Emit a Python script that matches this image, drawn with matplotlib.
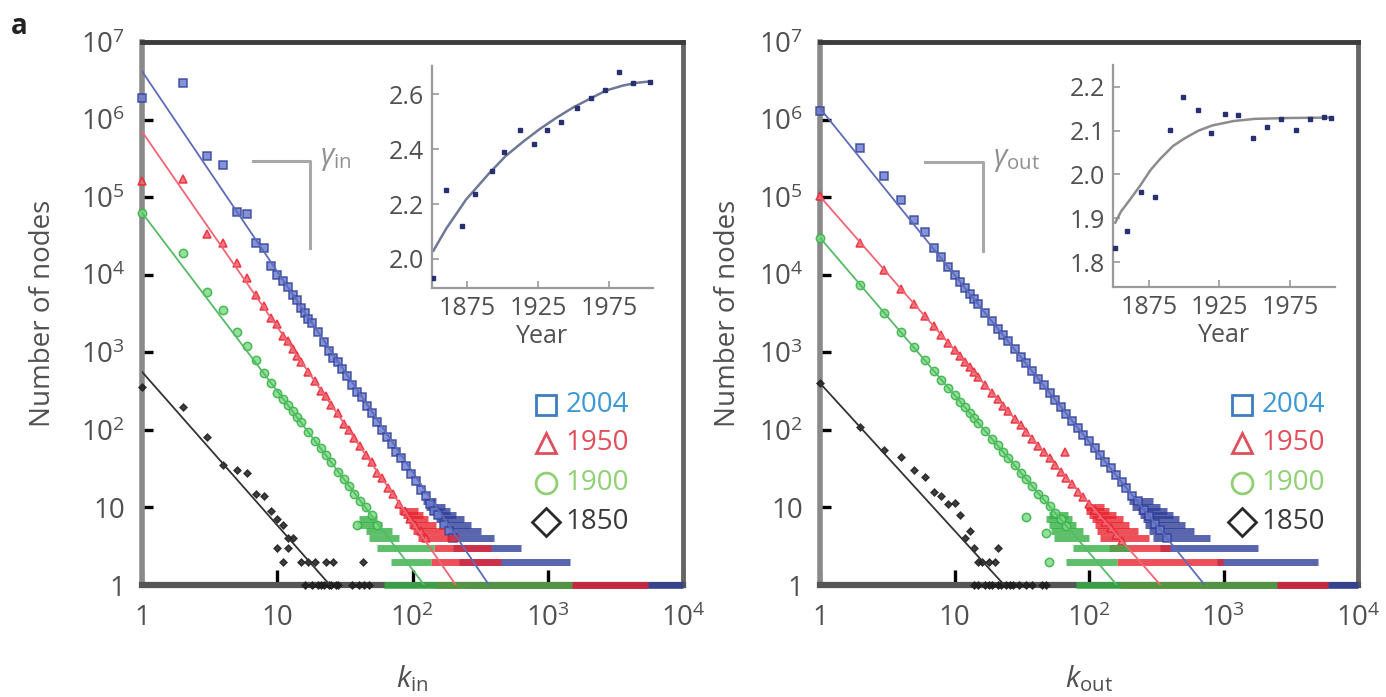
import matplotlib
matplotlib.use("Agg")
import matplotlib.pyplot as plt

plt.rcParams['font.family'] = ['Open Sans', 'DejaVu Sans']
plt.rcParams['mathtext.fontset'] = 'custom'
plt.rcParams['mathtext.rm'] = 'Open Sans'
plt.rcParams['mathtext.it'] = 'Open Sans:italic'

TXT = '#505050'

# ---- panel 1: in-degree distributions (k, number of nodes) ----
in_blue_k = [1, 2, 3, 4, 5, 6, 7, 8, 9, 10, 11, 12, 13, 14, 15, 16, 17, 18, 20, 22, 24, 26, 28, 30,
             33, 36, 39, 42, 46, 50, 55, 60, 65, 70, 76, 82, 90, 98, 106, 115, 125, 135, 145, 155, 170, 185, 200]
in_blue_n = [1.9e6, 3.0e6, 3.4e5, 2.6e5, 6.5e4, 6.0e4, 2.6e4, 2.2e4, 1.3e4, 1.0e4, 8.2e3, 7.0e3, 5.4e3, 4.7e3,
             3.7e3, 3.2e3, 2.7e3, 2.4e3, 1.8e3, 1.35e3, 1.05e3, 850, 760, 610, 490, 380, 310, 265, 205, 165,
             125, 100, 82, 66, 52, 43, 34, 27, 22, 17, 14, 11, 9, 8, 6, 5, 4]
in_blue_run_n = [12, 10, 9, 8, 7, 6, 5, 4, 3, 2, 1]
in_blue_run_k0 = [120, 125, 135, 145, 150, 160, 170, 180, 200, 220, 250]
in_blue_run_k1 = [150, 175, 190, 210, 240, 270, 320, 400, 630, 1450, 10000]

in_red_k = [1, 2, 3, 4, 5, 6, 7, 8, 9, 10, 11, 12, 13, 14, 15, 17, 19, 21, 23, 25, 28, 31, 34, 37, 41, 45,
            50, 55, 60, 66, 72, 80, 88, 96, 105, 115, 125]
in_red_n = [1.6e5, 1.7e5, 3.3e4, 2.6e4, 1.4e4, 9.0e3, 5.5e3, 3.9e3, 2.8e3, 2.3e3, 1.6e3, 1.4e3, 1.1e3, 900,
            760, 560, 430, 320, 270, 210, 165, 120, 100, 78, 62, 47, 38, 28, 24, 18, 15, 11, 9, 7, 6, 5, 4]
in_red_run_n = [9, 8, 7, 6, 5, 4, 3, 2, 1]
in_red_run_k0 = [80, 85, 90, 95, 100, 110, 145, 137, 150]
in_red_run_k1 = [110, 120, 130, 150, 170, 220, 380, 450, 5500]

in_green_k = [1, 2, 3, 4, 5, 6, 7, 8, 9, 10, 11, 12, 13, 14, 15, 17, 19, 21, 23, 25, 28, 31, 34, 37, 39, 41, 45, 50, 55]
in_green_n = [6.3e4, 1.9e4, 6.0e3, 3.5e3, 1.8e3, 1.2e3, 800, 540, 400, 300, 250, 210, 175, 145, 125, 93, 72,
              58, 47, 38, 29, 23, 19, 15, 6, 12, 10, 8, 6]
in_green_run_n = [7, 6, 5, 4, 3, 2, 1]
in_green_run_k0 = [40, 39, 45, 48, 55, 69, 62]
in_green_run_k1 = [55, 60, 70, 80, 145, 137, 1500]

in_black_k = [1, 2, 3, 4, 5, 6, 7, 8, 9, 10, 11, 12, 13, 10, 12, 11, 15, 17, 19, 23, 26, 43,
              16, 18, 20, 21, 22, 24, 25, 27, 28, 36, 40, 44, 48]
in_black_n = [360, 200, 80, 35, 30, 28, 15, 14, 9, 7, 6, 4, 4, 3, 3, 2, 2, 2, 2, 2, 2, 2,
              1, 1, 1, 1, 1, 1, 1, 1, 1, 1, 1, 1, 1]

in_fit_k = [[1, 368], [1, 209], [1, 122], [1, 24.5]]
in_fit_n = [[4.2e6, 1], [7.0e5, 1], [6.3e4, 1], [560, 1]]

# ---- panel 2: out-degree distributions ----
out_blue_k = [1, 2, 3, 4, 5, 6, 7, 8, 9, 10, 11, 12, 13, 14, 15, 17, 19, 21, 23, 25, 28, 31, 34, 38, 42, 46,
              51, 56, 62, 68, 75, 83, 91, 100, 110, 120, 132, 145, 160, 175, 190, 210, 230, 255, 280, 310, 340, 380]
out_blue_n = [1.3e6, 4.3e5, 1.9e5, 9.3e4, 5.1e4, 3.6e4, 2.2e4, 1.7e4, 1.26e4, 1.0e4, 8.1e3, 6.8e3, 5.7e3,
              4.85e3, 4.2e3, 3.2e3, 2.5e3, 2.0e3, 1.66e3, 1.4e3, 1.09e3, 880, 720, 566, 455, 376, 301, 246,
              198, 162, 132, 106, 87, 71, 58, 48, 39, 32, 26, 21, 18, 14, 12, 9.4, 7.7, 6.2, 5.1, 4]
out_blue_run_n = [12, 10, 9, 8, 7, 6, 5, 4, 3, 2, 1]
out_blue_run_k0 = [200, 210, 230, 240, 250, 260, 280, 300, 340, 900, 750]
out_blue_run_k1 = [300, 340, 380, 420, 470, 520, 600, 800, 1800, 5000, 10000]

out_red_k = [1, 2, 3, 4, 5, 6, 7, 8, 9, 10, 11, 12, 13, 14, 15, 17, 19, 21, 23, 25, 28, 31, 34, 38, 42, 46,
             51, 56, 62, 66, 68, 75, 83, 91, 100, 110, 120, 132, 145, 160, 175]
out_red_n = [1.02e5, 2.6e4, 1.16e4, 6.6e3, 4.2e3, 2.9e3, 2.2e3, 1.67e3, 1.32e3, 1.07e3, 890, 750, 640, 550,
             480, 375, 300, 247, 206, 175, 140, 114, 95, 76, 62, 52, 43, 35, 29, 52, 24, 20, 16, 13.5, 11,
             9.3, 7.8, 6.5, 5.4, 4.4, 3.7]
out_red_run_n = [10, 9, 8, 7, 6, 5, 4, 3, 2, 1]
out_red_run_k0 = [95, 95, 100, 105, 110, 115, 120, 140, 162, 170]
out_red_run_k1 = [130, 140, 160, 180, 200, 230, 280, 400, 990, 6000]

out_green_k = [1, 2, 3, 4, 5, 6, 7, 8, 9, 10, 11, 12, 13, 14, 15, 17, 19, 21, 23, 25, 28, 31, 34, 34, 38,
               42, 46, 48, 50, 51, 56, 62, 68]
out_green_n = [3.0e4, 7.4e3, 3.2e3, 1.8e3, 1.16e3, 800, 580, 445, 350, 280, 232, 195, 166, 142, 124, 96, 77,
               63, 52, 44, 35, 28, 23.5, 7.6, 19, 15, 12.7, 4.7, 2, 10.3, 8.5, 7, 5.8]
out_green_run_n = [8, 7, 6, 5, 4, 3, 2, 1]
out_green_run_k0 = [50, 48, 50, 52, 55, 76, 68, 80]
out_green_run_k1 = [70, 75, 80, 90, 100, 200, 162, 2500]

out_black_k = [1, 2, 3, 4, 5, 6, 7, 8, 9, 10, 11, 12, 13, 14, 21, 15, 16, 18, 20,
               14, 15, 17, 18, 19, 21, 22, 24, 26, 27, 30, 34, 38, 45, 48]
out_black_n = [400, 110, 55, 45, 30, 25, 16, 14, 11, 11.5, 8, 4, 5, 3, 3, 2, 2, 2, 2,
               1, 1, 1, 1, 1, 1, 1, 1, 1, 1, 1, 1, 1, 1, 1]

out_fit_k = [[1, 725], [1, 340], [1, 161], [1, 23.4]]
out_fit_n = [[1.4e6, 1], [1.02e5, 1], [3.0e4, 1], [400, 1]]

# ---- insets: exponent vs year ----
in_years = [1851, 1860, 1871, 1880, 1892, 1901, 1912, 1922, 1931, 1941, 1952, 1962, 1972, 1982, 1992, 2004]
in_gamma = [1.93, 2.25, 2.12, 2.235, 2.32, 2.39, 2.47, 2.42, 2.47, 2.50, 2.55, 2.585, 2.615, 2.68, 2.64, 2.645]
in_curve_year = [1851, 1860, 1874, 1890, 1902, 1915, 1926, 1938, 1950, 1962, 1973, 1985, 1995, 2006]
in_curve_val = [2.03, 2.11, 2.216, 2.31, 2.375, 2.43, 2.473, 2.515, 2.553, 2.585, 2.614, 2.632, 2.642, 2.648]

out_years = [1851, 1859, 1869, 1879, 1890, 1899, 1910, 1919, 1929, 1938, 1949, 1959, 1969, 1979, 1989, 1999, 2004]
out_gamma = [1.832, 1.871, 1.961, 1.948, 2.102, 2.177, 2.148, 2.095, 2.139, 2.136, 2.084, 2.108, 2.127,
             2.102, 2.127, 2.131, 2.129]
out_curve_year = [1851, 1855, 1862, 1869, 1876, 1883, 1892, 1900, 1910, 1920, 1935, 1950, 1975, 2005]
out_curve_val = [1.89, 1.915, 1.945, 1.976, 2.01, 2.036, 2.065, 2.082, 2.10, 2.112, 2.122, 2.127, 2.129, 2.13]

legend_years = ['2004', '1950', '1900', '1850']
markers = ['s', '^', 'o', 'D']
edge_cols = ['#2f3f98', '#e8242f', '#35b045', '#1e1e1e']
face_cols = ['#6f7fd0', '#f26470', '#7fdc86', '#1e1e1e']
mark_size = [6, 6, 6, 3.5]
fit_cols = ['#5d6bb8', '#f06574', '#55bb66', '#333333']
legend_edge = ['#3f7cc0', '#e0505c', '#8fd074', '#2a2a2a']
legend_txt_cols = ['#3d98d4', '#e14e5a', '#8fd074', '#3a3a3a']

ytick_vals = [1, 10, 1e2, 1e3, 1e4, 1e5, 1e6, 1e7]
ytick_labs = ['1', '10'] + [r'$\mathregular{10^{%d}}$' % i for i in range(2, 8)]
xtick_vals = [1, 10, 1e2, 1e3, 1e4]
xtick_labs = ['1', '10'] + [r'$\mathregular{10^{%d}}$' % i for i in range(2, 5)]


def series(ax, k, n, i, run_n=None, run_k0=None, run_k1=None):
    zo = 3 + i
    if run_n is not None:
        ax.hlines(run_n, run_k0, run_k1, colors=edge_cols[i], lw=5, alpha=0.8,
                  clip_on=False, zorder=zo)
    ax.plot(k, n, ls='none', marker=markers[i], ms=mark_size[i], mec=edge_cols[i], mfc=face_cols[i],
            mew=1.1, alpha=0.85, clip_on=False, zorder=zo)


def main_panel(ax, data, fit_k, fit_n, xlab, glab, gx, ylpad):
    for i, d in enumerate(data):
        if len(d) == 2:
            series(ax, d[0], d[1], i)
        else:
            series(ax, d[0], d[1], i, d[2], d[3], d[4])
    for i in range(4):
        ax.plot(fit_k[i], fit_n[i], color=fit_cols[i], lw=1.3, zorder=8)
    ax.set_xscale('log')
    ax.set_yscale('log')
    ax.set_xlim(1, 1e4)
    ax.set_ylim(1, 1e7)
    ax.set_yticks(ytick_vals)
    ax.set_yticklabels(ytick_labs)
    ax.set_xticks(xtick_vals)
    ax.set_xticklabels(xtick_labs)
    ax.minorticks_off()
    ax.tick_params(axis='y', direction='in', length=8, width=2.4, color='black',
                   labelsize=20, labelcolor=TXT, pad=12)
    ax.tick_params(axis='x', direction='in', length=11, width=2.4, color='black',
                   labelsize=20, labelcolor=TXT, pad=14)
    ax.spines['left'].set(color='#8a8a8a', lw=4)
    ax.spines['right'].set(color='#666666', lw=3.5)
    ax.spines['top'].set(color='#3c3c3c', lw=3.5)
    ax.spines['bottom'].set(color='#555555', lw=4.5)
    ax.set_xlabel(xlab, fontsize=21, color=TXT, labelpad=22)
    ax.set_ylabel('Number of nodes', fontsize=20, color=TXT, labelpad=ylpad)
    # slope guide
    ax.plot([gx[0], gx[1], gx[1]], [gx[2], gx[2], gx[3]], transform=ax.transAxes,
            color='#a8a8a8', lw=2.2)
    ax.text(gx[1] + 0.018, gx[2] + 0.005, glab, transform=ax.transAxes, fontsize=21,
            color='#909090', va='center', ha='left')
    # legend
    ys = [0.331, 0.2615, 0.188, 0.116]
    mx = gx[4]
    for i in range(4):
        ax.plot([mx], [ys[i]], marker=markers[i], ms=15 if i != 3 else 14, mfc='white',
                mec=legend_edge[i], mew=2, transform=ax.transAxes, clip_on=False, zorder=10)
        ax.text(mx + 0.036, ys[i], legend_years[i], transform=ax.transAxes, fontsize=20,
                color=legend_txt_cols[i], va='center', ha='left', zorder=10)


def inset(rect, yrs, vals, cy, cv, xlim, ylim, yticks, ylabs, ccol):
    ia = fig.add_axes(rect)
    ia.patch.set_alpha(0)
    ia.plot(cy, cv, color=ccol, lw=1.8, zorder=2)
    ia.plot(yrs, vals, ls='none', marker='s', ms=3.5, color='#283070', zorder=3)
    ia.set_xlim(*xlim)
    ia.set_ylim(*ylim)
    ia.set_xticks([1875, 1925, 1975])
    ia.set_yticks(yticks)
    ia.set_yticklabels(ylabs)
    for s in ['top', 'right']:
        ia.spines[s].set_visible(False)
    for s in ['left', 'bottom']:
        ia.spines[s].set(color='#9a9a9a', lw=1.6)
    ia.tick_params(direction='in', length=5, width=1.2, color='#9a9a9a',
                   labelsize=18, labelcolor=TXT, pad=6)
    ia.set_xlabel('Year', fontsize=18, color=TXT, labelpad=2)
    return ia


fig = plt.figure(figsize=(13.86, 6.97), dpi=100)
ax1 = fig.add_axes([142 / 1386, 1 - 585 / 697, 541 / 1386, 543 / 697])
ax2 = fig.add_axes([820 / 1386, 1 - 585 / 697, 538 / 1386, 543 / 697])

main_panel(ax1,
           [(in_blue_k, in_blue_n, in_blue_run_n, in_blue_run_k0, in_blue_run_k1),
            (in_red_k, in_red_n, in_red_run_n, in_red_run_k0, in_red_run_k1),
            (in_green_k, in_green_n, in_green_run_n, in_green_run_k0, in_green_run_k1),
            (in_black_k, in_black_n)],
           in_fit_k, in_fit_n, r'$k_{\mathrm{in}}$', r'$\gamma_{\mathrm{in}}$',
           (0.206, 0.3105, 0.781, 0.6206, 0.747), 17)
main_panel(ax2,
           [(out_blue_k, out_blue_n, out_blue_run_n, out_blue_run_k0, out_blue_run_k1),
            (out_red_k, out_red_n, out_red_run_n, out_red_run_k0, out_red_run_k1),
            (out_green_k, out_green_n, out_green_run_n, out_green_run_k0, out_green_run_k1),
            (out_black_k, out_black_n)],
           out_fit_k, out_fit_n, r'$k_{\mathrm{out}}$', r'$\gamma_{\mathrm{out}}$',
           (0.195, 0.303, 0.779, 0.615, 0.784), 12)

inset([432 / 1386, 1 - 288 / 697, 221 / 1386, 222 / 697], in_years, in_gamma,
      in_curve_year, in_curve_val, (1850, 2006), (1.894, 2.703),
      [2.0, 2.2, 2.4, 2.6], ['2.0', '2.2', '2.4', '2.6'], '#6f7896')
inset([1113 / 1386, 1 - 287 / 697, 222 / 1386, 222 / 697], out_years, out_gamma,
      out_curve_year, out_curve_val, (1849.4, 2007), (1.743, 2.25),
      [1.8, 1.9, 2.0, 2.1, 2.2], ['1.8', '1.9', '2.0', '2.1', '2.2'], '#8c8c8c')

fig.text(0.008, 0.962, 'a', fontsize=20, fontweight='bold', color='#222222', va='center')

fig.savefig('out.png', dpi=100)
